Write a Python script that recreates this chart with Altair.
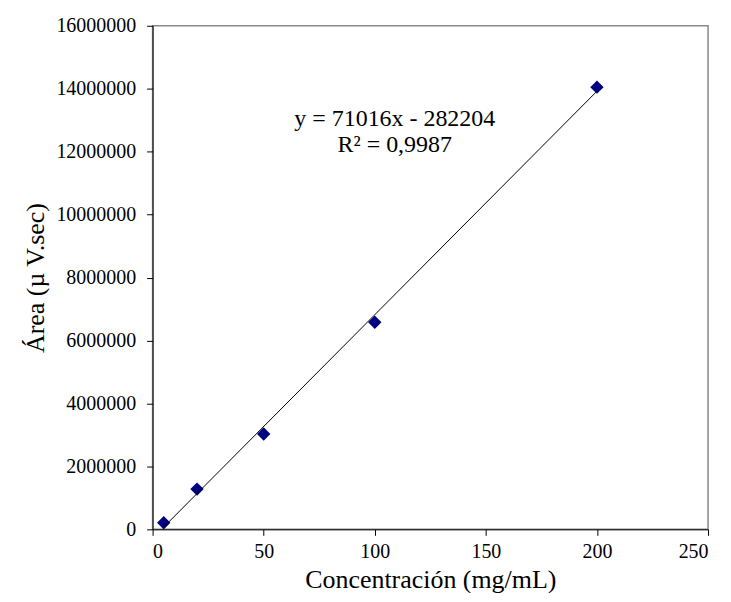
import altair as alt
import pandas as pd

conc = [5, 20, 50, 100, 200]
area = [210000, 1280000, 3030000, 6580000, 14050000]

slope = 71016
intercept = -282204
line_x = [5, 200]
line_y = [slope * v + intercept for v in line_x]

eq_text = ["y = 71016x - 282204", "R² = 0,9987"]
eq_x = [109, 109]
eq_y = [13050000, 12200000]

FONT = "Liberation Serif"

pts = pd.DataFrame({"x": conc, "y": area})
ln = pd.DataFrame({"x": line_x, "y": line_y})
tx = pd.DataFrame({"t": eq_text, "x": eq_x, "y": eq_y})

xs = alt.Scale(domain=[0, 250], nice=False)
ys = alt.Scale(domain=[0, 16000000], nice=False)

xaxis = alt.Axis(values=[0, 50, 100, 150, 200, 250], title="Concentración (mg/mL)",
                 labelPadding=6, titlePadding=5)
yaxis = alt.Axis(values=list(range(0, 16000001, 2000000)), format="d", title="Área (µ V.sec)",
                 labelPadding=11, titlePadding=7)

X = alt.X("x:Q", scale=xs, axis=xaxis)
Y = alt.Y("y:Q", scale=ys, axis=yaxis)

points = alt.Chart(pts).mark_point(shape="diamond", filled=True, color="#000080", size=180, opacity=1).encode(x=X, y=Y)
line = alt.Chart(ln).mark_line(color="black", strokeWidth=1).encode(x=X, y=Y)
text = alt.Chart(tx).mark_text(font=FONT, fontSize=24, color="black", align="center", baseline="middle").encode(
    x=X, y=Y, text="t:N")

chart = alt.layer(points, line, text).properties(
    width=557, height=505,
    autosize=alt.AutoSizeParams(type="none"),
    padding={"left": 145, "top": 17, "right": 15, "bottom": 63},
    background="white",
).configure_view(stroke="#888888", strokeWidth=1.5).configure_axis(
    grid=False, domainColor="black", tickColor="black", tickSize=6,
    labelFont=FONT, labelFontSize=20, labelColor="black",
    titleFont=FONT, titleFontSize=26, titleFontWeight="normal", titleColor="black",
)

chart.save("out.html", embed_options={"renderer": "svg", "actions": False})
